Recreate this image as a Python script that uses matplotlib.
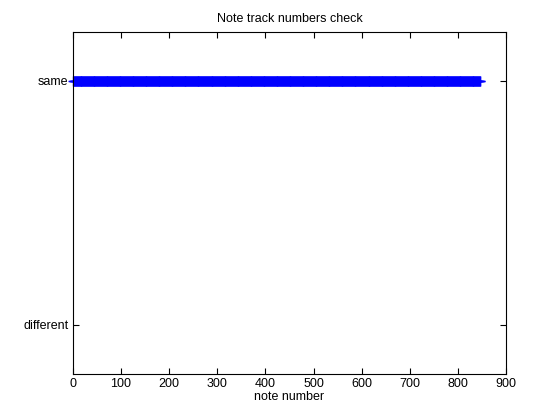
import numpy as np
import matplotlib
matplotlib.use("Agg")
import matplotlib.pyplot as plt

# note track check: 1 = same, 0 = different
n_notes = 846
note_numbers = np.arange(1, n_notes + 1)
check = np.ones(n_notes)
y_labels = ["different", "same"]
x_ticks = [0, 100, 200, 300, 400, 500, 600, 700, 800, 900]

plt.rcParams['font.family'] = ['Liberation Sans', 'DejaVu Sans']
plt.rcParams['font.size'] = 9

fig = plt.figure(figsize=(5.6, 4.2), dpi=100)
ax = fig.add_axes([0.130, 0.110, 0.774, 0.814])
ax.plot(note_numbers, check, '+', color='#0000ff', markersize=6.5,
        markeredgewidth=1, clip_on=False)

ax.set_xlim(0, 900)
ax.set_ylim(-0.2, 1.2)
ax.set_xticks(x_ticks)
ax.set_yticks([0, 1])
ax.set_yticklabels(y_labels)
ax.tick_params(direction='in', top=True, right=True, length=4, width=0.8, pad=3)
for s in ax.spines.values():
    s.set_linewidth(0.8)
ax.set_xlabel("note number", labelpad=1)
ax.set_title("Note track numbers check", fontsize=9, pad=7)

fig.savefig("out.png", dpi=100)
